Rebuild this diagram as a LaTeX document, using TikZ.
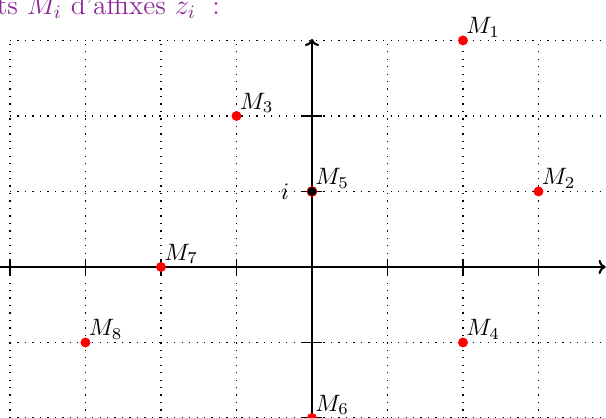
\documentclass[tikz,border=0pt]{standalone}
\usetikzlibrary{arrows.meta}
\definecolor{txtpurple}{RGB}{140,40,150}
\tikzset{
  gridline/.style={line width=0.55pt, dash pattern=on 0.55pt off 2.6pt},
  axisline/.style={line width=0.9pt, -{To[length=3pt,width=6pt]}},
  tickmark/.style={line width=0.6pt},
  ptdot/.style={circle, fill=red, inner sep=0pt, minimum size=4.2pt},
  ptlabel/.style={anchor=south west, inner sep=1.2pt},
}
\begin{document}
\begin{tikzpicture}[x=1.12cm,y=1.12cm]
\useasboundingbox (-4.132,-1.987) rectangle (3.894,3.536);
\clip (-4.132,-1.987) rectangle (3.894,3.536);
% text (cut)
\node[anchor=base east, inner sep=0pt, text=txtpurple, font=\fontsize{11.6}{14}\selectfont] (title) at (-1.215,3.345) {des points $M_i$ d'affixes $z_i$\hspace{0.6em}:};
% grid
\foreach \x in {-4,...,3} \draw[gridline] (\x,-2.2) -- (\x,3);
\foreach \y in {-2,...,3} \draw[gridline] (-4,\y) -- (4,\y);
% axes
\coordinate (xs) at (-4.2,0);
\coordinate (xe) at (3.89,0);
\coordinate (ys) at (0,-2.2);
\coordinate (ye) at (0,3.02);
\draw[axisline] (xs) -- (xe);
\draw[axisline] (ys) -- (ye);
\foreach \x in {-4,...,3} \draw[tickmark] (\x,-0.1) -- (\x,0.1);
\foreach \y in {-2,...,2} \draw[tickmark] (-0.13,\y) -- (0.13,\y);
% points
\node[ptdot] (m1) at (2,3) {};
\node[ptdot] (m2) at (3,1) {};
\node[ptdot] (m3) at (-1,2) {};
\node[ptdot] (m4) at (2,-1) {};
\node[ptdot, fill=black, draw=red, line width=0.3pt] (m5) at (0,1) {};
\node[ptdot] (m6) at (0,-2) {};
\node[ptdot] (m7) at (-2,0) {};
\node[ptdot] (m8) at (-3,-1) {};
\node[ptlabel] (l1) at (m1.center) {$M_1$};
\node[ptlabel] (l2) at (m2.center) {$M_2$};
\node[ptlabel] (l3) at (m3.center) {$M_3$};
\node[ptlabel] (l4) at (m4.center) {$M_4$};
\node[ptlabel] (l5) at (m5.center) {$M_5$};
\node[ptlabel] (l6) at (m6.center) {$M_6$};
\node[ptlabel] (l7) at (m7.center) {$M_7$};
\node[ptlabel] (l8) at (m8.center) {$M_8$};
\node[anchor=east, inner sep=0pt] (li) at ([xshift=-9.5pt]m5.center) {$i$};
\end{tikzpicture}
\end{document}
